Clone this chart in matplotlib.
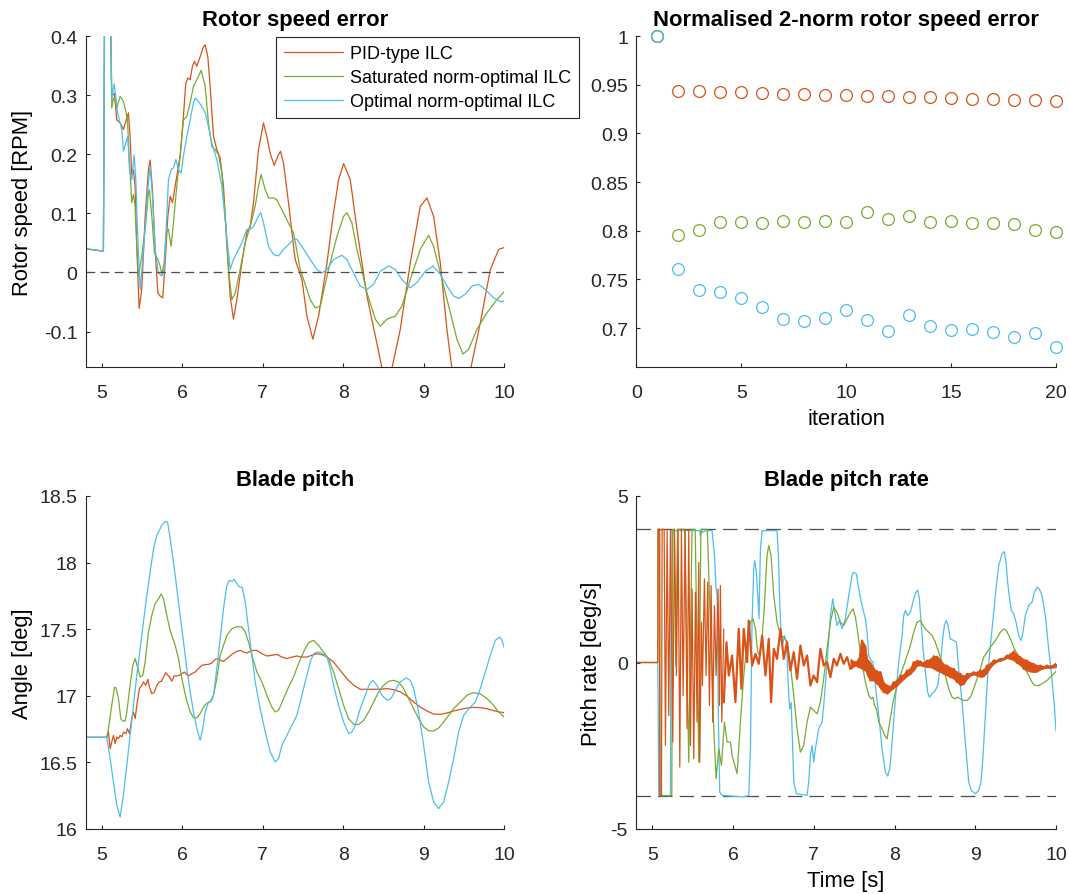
import numpy as np
import matplotlib
matplotlib.use("Agg")
import matplotlib.pyplot as plt

plt.rcParams['font.family'] = ['Liberation Sans', 'DejaVu Sans']
plt.rcParams['axes.unicode_minus'] = False
plt.rcParams['text.color'] = '#262626'

C_PID = '#D95319'
C_SAT = '#77AC30'
C_OPT = '#4DBEEE'
C_AX = '#262626'
C_REF = '#4d4d4d'

labels = ['PID-type ILC', 'Saturated norm-optimal ILC', 'Optimal norm-optimal ILC']

# ---------------- rotor speed error [RPM] (time, value) ----------------
speed_pid = np.array([
    (4.80, 0.040), (5.02, 0.036), (5.04, 0.60), (5.09, 0.60), (5.124, 0.298), (5.157, 0.303),
    (5.186, 0.258), (5.228, 0.253), (5.269, 0.242), (5.311, 0.261), (5.331, 0.270), (5.352, 0.230),
    (5.373, 0.163), (5.393, 0.174), (5.414, 0.146), (5.435, 0.044), (5.464, -0.061), (5.497, -0.029),
    (5.539, 0.095), (5.580, 0.174), (5.601, 0.190), (5.630, 0.140), (5.663, 0.039), (5.696, -0.034),
    (5.725, -0.040), (5.758, -0.043), (5.787, 0.016), (5.821, 0.095), (5.850, 0.129), (5.879, 0.118),
    (5.912, 0.146), (5.974, 0.197), (6.015, 0.264), (6.044, 0.320), (6.069, 0.329), (6.098, 0.326),
    (6.127, 0.349), (6.152, 0.357), (6.181, 0.349), (6.223, 0.365), (6.264, 0.382), (6.285, 0.385),
    (6.318, 0.365), (6.347, 0.315), (6.389, 0.230), (6.430, 0.208), (6.471, 0.194), (6.513, 0.146),
    (6.554, 0.050), (6.596, -0.040), (6.637, -0.079), (6.679, -0.046), (6.741, 0.016), (6.803, 0.067),
    (6.845, 0.078), (6.886, 0.118), (6.948, 0.208), (7.010, 0.253), (7.052, 0.230), (7.093, 0.202),
    (7.143, 0.181), (7.189, 0.197), (7.222, 0.205), (7.259, 0.185), (7.321, 0.118), (7.384, 0.044),
    (7.404, 0.022), (7.488, -0.012), (7.550, -0.074), (7.624, -0.113), (7.695, -0.074), (7.799, 0.016),
    (7.881, 0.101), (7.944, 0.157), (8.006, 0.184), (8.089, 0.157), (8.172, 0.073), (8.296, -0.040),
    (8.420, -0.120), (8.480, -0.160), (8.550, -0.178), (8.610, -0.160), (8.711, -0.096), (8.835, 0.016),
    (8.959, 0.112), (9.042, 0.126), (9.125, 0.095), (9.208, 0.016), (9.290, -0.096), (9.350, -0.160),
    (9.470, -0.205), (9.590, -0.160), (9.706, -0.085), (9.830, 0.005), (9.934, 0.039), (10.0, 0.042)])

speed_sat = np.array([
    (4.80, 0.040), (5.02, 0.036), (5.04, 0.60), (5.09, 0.60), (5.124, 0.278), (5.145, 0.295),
    (5.166, 0.292), (5.186, 0.278), (5.228, 0.298), (5.269, 0.289), (5.298, 0.273), (5.319, 0.258),
    (5.340, 0.197), (5.373, 0.118), (5.393, 0.132), (5.414, 0.112), (5.435, 0.044), (5.456, -0.006),
    (5.497, 0.028), (5.539, 0.073), (5.580, 0.135), (5.592, 0.140), (5.622, 0.095), (5.655, 0.033),
    (5.696, 0.022), (5.725, 0.011), (5.746, -0.003), (5.775, 0.016), (5.800, 0.067), (5.829, 0.073),
    (5.862, 0.044), (5.891, 0.084), (5.932, 0.146), (5.974, 0.197), (6.015, 0.258), (6.057, 0.264),
    (6.098, 0.287), (6.140, 0.315), (6.181, 0.326), (6.235, 0.342), (6.285, 0.315), (6.326, 0.253),
    (6.368, 0.213), (6.409, 0.208), (6.451, 0.199), (6.492, 0.169), (6.534, 0.096), (6.575, 0.005),
    (6.617, -0.046), (6.658, -0.035), (6.720, 0.005), (6.783, 0.050), (6.845, 0.078), (6.907, 0.112),
    (6.948, 0.146), (6.981, 0.166), (7.031, 0.140), (7.073, 0.126), (7.135, 0.126), (7.176, 0.123),
    (7.239, 0.106), (7.301, 0.089), (7.384, 0.067), (7.467, 0.005), (7.591, -0.046), (7.653, -0.060),
    (7.716, -0.057), (7.819, 0.005), (7.923, 0.061), (8.006, 0.095), (8.047, 0.101), (8.109, 0.084),
    (8.172, 0.039), (8.296, -0.034), (8.400, -0.079), (8.462, -0.091), (8.545, -0.079), (8.648, -0.074),
    (8.731, -0.057), (8.835, -0.012), (8.959, 0.039), (9.063, 0.063), (9.125, 0.044), (9.229, -0.012),
    (9.333, -0.068), (9.415, -0.113), (9.490, -0.138), (9.561, -0.130), (9.664, -0.096), (9.789, -0.068),
    (9.913, -0.046), (10.0, -0.033)])

speed_opt = np.array([
    (4.80, 0.040), (5.02, 0.036), (5.04, 0.60), (5.10, 0.60), (5.124, 0.292), (5.153, 0.319),
    (5.174, 0.298), (5.195, 0.270), (5.228, 0.253), (5.248, 0.242), (5.269, 0.205), (5.298, 0.219),
    (5.323, 0.230), (5.344, 0.174), (5.373, 0.157), (5.402, 0.199), (5.423, 0.157), (5.443, 0.073),
    (5.477, -0.029), (5.506, 0.016), (5.539, 0.078), (5.572, 0.140), (5.601, 0.180), (5.630, 0.129),
    (5.663, 0.039), (5.704, -0.001), (5.746, -0.006), (5.775, 0.005), (5.800, 0.073), (5.829, 0.157),
    (5.862, 0.174), (5.891, 0.177), (5.920, 0.191), (5.953, 0.174), (5.986, 0.168), (6.015, 0.197),
    (6.057, 0.230), (6.098, 0.258), (6.140, 0.287), (6.161, 0.295), (6.202, 0.289), (6.243, 0.281),
    (6.285, 0.270), (6.326, 0.247), (6.368, 0.219), (6.430, 0.191), (6.492, 0.146), (6.554, 0.061),
    (6.596, 0.005), (6.637, 0.022), (6.679, 0.033), (6.741, 0.050), (6.803, 0.073), (6.845, 0.073),
    (6.886, 0.078), (6.948, 0.095), (6.977, 0.101), (7.010, 0.084), (7.073, 0.044), (7.135, 0.030),
    (7.197, 0.028), (7.259, 0.039), (7.321, 0.047), (7.384, 0.056), (7.425, 0.056), (7.488, 0.044),
    (7.591, 0.022), (7.674, 0.005), (7.736, -0.001), (7.799, 0.005), (7.881, 0.022), (7.985, 0.029),
    (8.047, 0.022), (8.130, -0.001), (8.213, -0.023), (8.296, -0.029), (8.379, -0.020), (8.462, 0.002),
    (8.566, 0.011), (8.648, 0.005), (8.731, -0.012), (8.835, -0.026), (8.918, -0.017), (9.022, 0.002),
    (9.117, 0.011), (9.208, -0.003), (9.291, -0.023), (9.374, -0.040), (9.436, -0.044), (9.519, -0.037),
    (9.602, -0.023), (9.685, -0.020), (9.768, -0.029), (9.872, -0.043), (9.963, -0.050), (10.0, -0.048)])

# ---------------- normalised 2-norm of the error per iteration ----------------
iteration = np.arange(1, 21)
norm_pid = [1.0, 0.9437, 0.9430, 0.9423, 0.9420, 0.9413, 0.9406, 0.9400, 0.9392, 0.9389,
            0.9382, 0.9379, 0.9372, 0.9369, 0.9362, 0.9355, 0.9348, 0.9345, 0.9341, 0.9334]
norm_sat = [1.0, 0.7959, 0.8003, 0.8085, 0.8085, 0.8080, 0.8096, 0.8089, 0.8096, 0.8085,
            0.8195, 0.8116, 0.8150, 0.8090, 0.8096, 0.8078, 0.8080, 0.8068, 0.8010, 0.7990]
norm_opt = [1.0, 0.7611, 0.7396, 0.7369, 0.7310, 0.7218, 0.7096, 0.7072, 0.7106, 0.7184,
            0.7078, 0.6973, 0.7130, 0.7017, 0.6983, 0.6993, 0.6959, 0.6904, 0.6952, 0.6802]

# ---------------- blade pitch angle [deg] (time, value) ----------------
pitch_pid = np.array([
    (4.80, 16.688), (5.062, 16.688), (5.083, 16.728), (5.104, 16.603), (5.124, 16.653), (5.145, 16.703),
    (5.166, 16.641), (5.187, 16.691), (5.207, 16.678), (5.228, 16.703), (5.249, 16.691), (5.269, 16.728),
    (5.299, 16.716), (5.319, 16.753), (5.344, 16.716), (5.373, 16.828), (5.394, 16.878), (5.415, 16.828),
    (5.435, 16.928), (5.468, 17.054), (5.498, 17.079), (5.518, 17.104), (5.547, 17.079), (5.572, 17.124),
    (5.593, 17.066), (5.622, 17.016), (5.651, 17.024), (5.684, 17.079), (5.713, 17.104), (5.742, 17.109),
    (5.767, 17.141), (5.796, 17.174), (5.821, 17.154), (5.842, 17.141), (5.871, 17.109), (5.900, 17.149),
    (5.933, 17.149), (5.962, 17.154), (5.995, 17.166), (6.028, 17.179), (6.057, 17.159), (6.078, 17.149),
    (6.119, 17.166), (6.161, 17.179), (6.202, 17.204), (6.244, 17.229), (6.285, 17.234), (6.327, 17.236),
    (6.368, 17.246), (6.410, 17.274), (6.451, 17.279), (6.472, 17.266), (6.513, 17.259), (6.555, 17.279),
    (6.617, 17.311), (6.679, 17.334), (6.721, 17.341), (6.762, 17.329), (6.803, 17.321), (6.845, 17.334),
    (6.886, 17.341), (6.928, 17.341), (6.990, 17.316), (7.052, 17.299), (7.114, 17.304), (7.177, 17.311),
    (7.239, 17.291), (7.301, 17.279), (7.363, 17.291), (7.425, 17.299), (7.488, 17.291), (7.550, 17.291),
    (7.612, 17.304), (7.674, 17.316), (7.736, 17.309), (7.799, 17.291), (7.881, 17.254), (7.964, 17.191),
    (8.047, 17.129), (8.130, 17.079), (8.213, 17.049), (8.296, 17.049), (8.379, 17.049), (8.462, 17.049),
    (8.545, 17.054), (8.628, 17.046), (8.711, 17.029), (8.794, 16.998), (8.877, 16.953), (8.959, 16.916),
    (9.042, 16.886), (9.125, 16.863), (9.208, 16.861), (9.291, 16.871), (9.374, 16.886), (9.457, 16.898),
    (9.540, 16.908), (9.623, 16.913), (9.706, 16.911), (9.789, 16.903), (9.872, 16.888), (9.954, 16.878),
    (10.0, 16.873)])

pitch_sat = np.array([
    (4.80, 16.688), (5.062, 16.688), (5.083, 16.753), (5.124, 16.928), (5.158, 17.064), (5.178, 17.059),
    (5.207, 16.979), (5.236, 16.828), (5.261, 16.811), (5.290, 16.811), (5.311, 16.878), (5.352, 17.079),
    (5.386, 17.229), (5.415, 17.279), (5.444, 17.216), (5.477, 17.141), (5.510, 17.154), (5.539, 17.254),
    (5.580, 17.479), (5.622, 17.604), (5.663, 17.692), (5.705, 17.729), (5.738, 17.764), (5.767, 17.729),
    (5.808, 17.604), (5.850, 17.491), (5.912, 17.379), (5.954, 17.279), (5.995, 17.129), (6.049, 16.979),
    (6.099, 16.878), (6.140, 16.836), (6.182, 16.836), (6.223, 16.866), (6.265, 16.916), (6.306, 16.946),
    (6.347, 16.953), (6.389, 17.004), (6.430, 17.129), (6.472, 17.304), (6.513, 17.379), (6.555, 17.454),
    (6.617, 17.504), (6.679, 17.519), (6.741, 17.516), (6.783, 17.479), (6.824, 17.404), (6.866, 17.304),
    (6.928, 17.179), (6.990, 17.104), (7.052, 17.004), (7.114, 16.916), (7.156, 16.878), (7.197, 16.891),
    (7.260, 16.979), (7.322, 17.066), (7.384, 17.141), (7.446, 17.241), (7.508, 17.329), (7.570, 17.399),
    (7.633, 17.416), (7.695, 17.379), (7.757, 17.329), (7.819, 17.279), (7.881, 17.179), (7.944, 17.054),
    (8.006, 16.928), (8.068, 16.828), (8.130, 16.788), (8.192, 16.783), (8.255, 16.816), (8.317, 16.878),
    (8.379, 16.953), (8.441, 17.029), (8.503, 17.079), (8.566, 17.109), (8.628, 17.116), (8.690, 17.104),
    (8.752, 17.054), (8.814, 16.979), (8.877, 16.903), (8.939, 16.828), (9.001, 16.766), (9.063, 16.738),
    (9.125, 16.736), (9.187, 16.758), (9.250, 16.803), (9.312, 16.853), (9.374, 16.903), (9.457, 16.953),
    (9.540, 17.004), (9.623, 17.024), (9.706, 17.014), (9.789, 16.979), (9.872, 16.928), (9.934, 16.878),
    (10.0, 16.841)])

pitch_opt = np.array([
    (4.80, 16.688), (5.062, 16.688), (5.104, 16.528), (5.145, 16.353), (5.187, 16.178), (5.228, 16.090),
    (5.269, 16.253), (5.311, 16.478), (5.352, 16.703), (5.394, 16.928), (5.435, 17.154), (5.477, 17.354),
    (5.518, 17.554), (5.560, 17.754), (5.601, 17.929), (5.643, 18.104), (5.684, 18.205), (5.746, 18.280),
    (5.788, 18.310), (5.817, 18.305), (5.850, 18.180), (5.891, 18.005), (5.933, 17.804), (5.974, 17.604),
    (6.016, 17.404), (6.057, 17.204), (6.099, 17.029), (6.140, 16.878), (6.182, 16.753), (6.223, 16.666),
    (6.256, 16.753), (6.285, 16.878), (6.327, 16.953), (6.368, 16.966), (6.389, 17.004), (6.430, 17.204),
    (6.472, 17.429), (6.513, 17.654), (6.555, 17.829), (6.584, 17.867), (6.617, 17.859), (6.646, 17.874),
    (6.679, 17.842), (6.712, 17.817), (6.745, 17.814), (6.783, 17.704), (6.824, 17.504), (6.866, 17.304),
    (6.907, 17.104), (6.969, 16.903), (7.032, 16.728), (7.094, 16.578), (7.156, 16.503), (7.197, 16.528),
    (7.239, 16.628), (7.301, 16.703), (7.363, 16.778), (7.425, 16.853), (7.467, 16.953), (7.508, 17.054),
    (7.550, 17.154), (7.591, 17.254), (7.633, 17.316), (7.682, 17.329), (7.736, 17.321), (7.799, 17.291),
    (7.840, 17.204), (7.881, 17.079), (7.944, 16.928), (8.006, 16.803), (8.068, 16.716), (8.109, 16.728),
    (8.151, 16.778), (8.213, 16.903), (8.275, 17.004), (8.329, 17.091), (8.371, 17.116), (8.420, 17.079),
    (8.483, 17.004), (8.545, 16.966), (8.595, 16.979), (8.648, 17.041), (8.711, 17.104), (8.785, 17.134),
    (8.835, 17.116), (8.877, 17.054), (8.939, 16.878), (9.001, 16.628), (9.063, 16.353), (9.125, 16.203),
    (9.187, 16.153), (9.250, 16.203), (9.312, 16.353), (9.374, 16.528), (9.436, 16.728), (9.498, 16.853),
    (9.581, 16.916), (9.643, 16.953), (9.706, 17.054), (9.768, 17.179), (9.830, 17.304), (9.892, 17.416),
    (9.946, 17.441), (9.975, 17.416), (10.0, 17.366)])

# ---------------- blade pitch rate [deg/s] ----------------
rate_limit = 4.0

# PID-type: switching phase as a line (time, value) ...
rate_pid_switch = np.array([
    (4.80, 0.0), (5.066, 0.0), (5.070, 4.0), (5.087, 4.0), (5.091, -3.99), (5.112, -3.99), (5.120, 4.0),
    (5.145, 4.0), (5.161, -2.49), (5.182, 4.0), (5.202, -1.59), (5.223, 4.0), (5.252, -2.39), (5.273, 4.0),
    (5.297, -0.39), (5.318, 4.0), (5.339, -3.14), (5.359, 4.0), (5.380, -0.99), (5.405, 4.0), (5.429, -1.99),
    (5.450, 4.0), (5.471, -2.49), (5.491, 2.21), (5.512, -2.89), (5.533, 2.11), (5.553, -1.79), (5.574, 3.0),
    (5.586, -2.99), (5.607, 1.21), (5.619, -0.69), (5.644, 2.51), (5.665, -0.39), (5.685, 2.41),
    (5.706, -1.29), (5.727, 2.31), (5.747, -1.79), (5.768, 1.71), (5.789, -0.39), (5.813, 2.21),
    (5.830, -1.29), (5.842, 2.31), (5.859, -1.79), (5.884, 1.0)])

# ... then chattering, given as (time, lower swing, upper swing)
rate_pid_band = np.array([
    (5.884, -1.19, 1.91), (5.917, -0.49, 0.61), (5.946, -0.39, 0.41), (5.987, -0.79, 0.21),
    (6.028, -1.19, 0.61), (6.069, -0.99, 1.01), (6.102, -0.79, 1.71), (6.131, -0.39, 1.01),
    (6.173, 0.01, 0.71), (6.193, 0.01, 1.26), (6.235, -0.09, 0.41), (6.276, -0.19, 0.26),
    (6.317, -0.04, 0.51), (6.359, -0.19, 0.81), (6.400, -0.39, 1.06), (6.441, -0.79, 0.71),
    (6.470, -1.19, 0.21), (6.503, -0.39, 0.41), (6.544, 0.11, 0.81), (6.586, 0.21, 1.01),
    (6.627, 0.11, 0.81), (6.668, -0.09, 0.61), (6.709, -0.24, 0.51), (6.751, -0.39, 0.31),
    (6.792, -0.49, 0.21), (6.833, -0.19, 0.51), (6.875, -0.09, 0.41), (6.916, -0.49, 0.21),
    (6.957, -0.69, -0.09), (6.998, -0.89, -0.39), (7.040, -0.59, 0.11), (7.081, -0.09, 0.41),
    (7.122, -0.09, 0.31), (7.164, -0.39, 0.01), (7.205, -0.44, -0.04), (7.246, -0.24, 0.11),
    (7.287, -0.09, 0.21), (7.329, 0.01, 0.26), (7.370, -0.04, 0.21), (7.412, -0.14, 0.16),
    (7.453, -0.19, 0.11), (7.515, -0.09, 0.01), (7.556, -0.14, 0.16), (7.597, -0.19, 0.66),
    (7.638, -0.24, 0.51), (7.659, -0.39, 0.11), (7.700, -0.54, 0.01), (7.742, -0.54, -0.19),
    (7.783, -0.64, -0.24), (7.824, -0.79, -0.29), (7.865, -0.89, -0.59), (7.907, -0.94, -0.69),
    (7.948, -0.84, -0.69), (7.989, -0.77, -0.59), (8.031, -0.69, -0.49), (8.072, -0.59, -0.39),
    (8.113, -0.49, -0.34), (8.155, -0.41, -0.24), (8.196, -0.34, -0.14), (8.237, -0.24, 0.01),
    (8.278, -0.09, 0.09), (8.320, -0.09, 0.03), (8.361, -0.11, 0.01), (8.402, -0.14, 0.06),
    (8.443, -0.14, 0.13), (8.485, -0.19, 0.19), (8.526, -0.24, 0.21), (8.567, -0.29, 0.06),
    (8.609, -0.34, -0.04), (8.650, -0.39, -0.09), (8.691, -0.44, -0.14), (8.733, -0.49, -0.19),
    (8.774, -0.59, -0.27), (8.815, -0.69, -0.34), (8.856, -0.64, -0.39), (8.898, -0.49, -0.34),
    (8.939, -0.39, -0.31), (8.980, -0.36, -0.29), (9.021, -0.39, -0.27), (9.063, -0.44, -0.24),
    (9.104, -0.41, -0.19), (9.145, -0.31, -0.09), (9.187, -0.14, 0.01), (9.228, -0.04, 0.06),
    (9.269, 0.03, 0.09), (9.311, 0.05, 0.11), (9.352, 0.09, 0.15), (9.393, 0.13, 0.21),
    (9.434, 0.11, 0.29), (9.476, 0.06, 0.33), (9.517, -0.01, 0.26), (9.558, -0.09, 0.16),
    (9.600, -0.19, 0.11), (9.641, -0.24, 0.06), (9.682, -0.27, 0.01), (9.723, -0.29, -0.04),
    (9.765, -0.27, -0.07), (9.806, -0.21, -0.09), (9.847, -0.17, -0.11), (9.888, -0.16, -0.09),
    (9.930, -0.16, -0.09), (10.0, -0.14, -0.04)])
dense_from = 7.45  # from here on the chattering reads as a solid ribbon

rate_sat = np.array([
    (4.80, 0.0), (5.066, 0.0), (5.068, 4.0), (5.090, 4.0), (5.095, -4.0), (5.240, -4.0), (5.250, 4.0),
    (5.270, 4.0), (5.290, -0.10), (5.310, 4.0), (5.400, 4.0), (5.450, -3.0), (5.490, 4.0), (5.530, 4.0),
    (5.574, -3.0), (5.600, 4.0), (5.680, 4.0), (5.720, 1.0), (5.760, -2.0), (5.789, -3.49),
    (5.822, -2.59), (5.855, -3.09), (5.892, -1.79), (5.925, -2.39), (5.966, -2.39), (5.987, -2.79),
    (6.049, -3.34), (6.090, -1.79), (6.131, -0.39), (6.173, 0.61), (6.214, 1.21), (6.247, 1.31),
    (6.276, 1.01), (6.305, 0.31), (6.330, 0.21), (6.358, 0.71), (6.387, 1.71), (6.420, 3.21),
    (6.441, 3.51), (6.470, 3.21), (6.503, 2.01), (6.544, 1.21), (6.586, 0.81), (6.627, 0.76),
    (6.668, 0.61), (6.709, -0.09), (6.751, -0.99), (6.792, -1.99), (6.833, -2.69), (6.875, -2.49),
    (6.916, -1.79), (6.957, -1.34), (6.998, -1.44), (7.040, -1.54), (7.081, -1.19), (7.122, -0.49),
    (7.164, 0.41), (7.205, 1.21), (7.246, 1.66), (7.287, 1.51), (7.329, 1.21), (7.370, 1.11),
    (7.412, 1.31), (7.453, 1.51), (7.486, 1.61), (7.515, 1.36), (7.543, 0.91), (7.576, 0.31),
    (7.609, -0.19), (7.638, -0.59), (7.680, -0.99), (7.709, -1.09), (7.733, -1.04), (7.750, -1.29),
    (7.775, -1.39), (7.804, -1.79), (7.845, -1.99), (7.878, -2.19), (7.907, -2.29), (7.940, -1.79),
    (7.981, -1.19), (8.031, -0.69), (8.072, -0.39), (8.113, -0.09), (8.155, 0.21), (8.196, 0.51),
    (8.237, 0.91), (8.278, 1.21), (8.320, 1.26), (8.353, 1.11), (8.382, 1.01), (8.423, 0.91),
    (8.464, 0.81), (8.505, 0.61), (8.547, 0.31), (8.588, 0.01), (8.629, -0.39), (8.671, -0.79),
    (8.712, -1.04), (8.753, -1.09), (8.782, -1.04), (8.815, -1.09), (8.856, -1.14), (8.898, -1.14),
    (8.939, -1.04), (8.980, -0.79), (9.021, -0.49), (9.063, -0.19), (9.104, 0.16), (9.145, 0.31),
    (9.187, 0.46), (9.249, 0.66), (9.311, 0.91), (9.352, 1.01), (9.385, 0.96), (9.426, 0.76),
    (9.476, 0.46), (9.517, 0.26), (9.558, 0.06), (9.600, -0.09), (9.641, -0.29), (9.682, -0.49),
    (9.715, -0.64), (9.744, -0.69), (9.785, -0.69), (9.827, -0.64), (9.888, -0.54), (9.950, -0.39),
    (10.0, -0.27)])

rate_opt = np.array([
    (4.80, 0.0), (5.066, 0.0), (5.070, -1.0), (5.078, -3.99), (5.223, -4.0), (5.231, 3.96), (5.388, 3.96),
    (5.585, 3.96), (5.595, 3.81), (5.615, 3.96), (5.628, 3.91), (5.656, 3.96), (5.739, 3.96), (5.768, 3.21),
    (5.789, 2.21), (5.801, 2.01), (5.818, -1.79), (5.834, -3.89), (5.863, -3.99), (6.131, -4.04),
    (6.193, -3.99), (6.214, -2.59), (6.234, 1.21), (6.255, 2.81), (6.268, 3.06), (6.288, 2.71),
    (6.305, 2.01), (6.321, 1.31), (6.325, 2.0), (6.338, 3.4), (6.359, 3.96), (6.544, 3.96), (6.561, 3.2),
    (6.577, 1.81), (6.594, 0.80), (6.610, 0.51), (6.635, 0.81), (6.660, 0.61), (6.689, -0.99),
    (6.701, -1.39), (6.718, -1.20), (6.734, -2.29), (6.751, -3.59), (6.784, -3.94), (6.916, -3.99),
    (6.936, -3.59), (6.957, -2.79), (6.978, -2.49), (6.998, -2.99), (7.019, -2.59), (7.060, -1.99),
    (7.102, -1.79), (7.122, -1.29), (7.164, 0.01), (7.205, 1.41), (7.234, 1.91), (7.259, 1.51),
    (7.287, 1.11), (7.316, 1.26), (7.349, 1.01), (7.391, 1.31), (7.432, 2.01), (7.473, 2.61),
    (7.486, 2.71), (7.527, 2.66), (7.556, 2.21), (7.597, 1.71), (7.638, 1.31), (7.659, 0.91),
    (7.680, 0.21), (7.708, 0.06), (7.733, 0.01), (7.762, -0.69), (7.804, -1.59), (7.845, -2.59),
    (7.886, -3.29), (7.915, -3.41), (7.940, -3.19), (7.969, -2.39), (8.010, -1.09), (8.051, 0.01),
    (8.093, 0.81), (8.113, 1.41), (8.134, 1.56), (8.163, 1.41), (8.196, 1.51), (8.237, 1.91),
    (8.266, 2.11), (8.287, 2.18), (8.307, 1.91), (8.328, 1.21), (8.353, 0.41), (8.382, -0.29),
    (8.410, -0.89), (8.431, -1.04), (8.464, -0.94), (8.505, -0.84), (8.534, -0.69), (8.567, -0.09),
    (8.596, 0.71), (8.617, 1.11), (8.638, 1.26), (8.658, 1.16), (8.691, 0.71), (8.733, 0.66),
    (8.766, 0.61), (8.794, -0.19), (8.836, -1.19), (8.877, -2.39), (8.918, -3.59), (8.951, -3.84),
    (9.001, -3.94), (9.042, -3.84), (9.071, -3.59), (9.096, -2.79), (9.125, -1.59), (9.154, -0.39),
    (9.187, 0.51), (9.220, 1.31), (9.257, 2.21), (9.290, 2.91), (9.331, 3.26), (9.360, 3.33),
    (9.381, 3.01), (9.401, 2.41), (9.426, 1.91), (9.447, 1.56), (9.476, 1.46), (9.505, 1.21),
    (9.538, 0.81), (9.567, 0.66), (9.591, 0.91), (9.620, 1.41), (9.661, 1.71), (9.703, 1.81),
    (9.732, 2.11), (9.765, 2.26), (9.794, 2.21), (9.827, 2.01), (9.868, 1.41), (9.909, 0.41),
    (9.950, -0.49), (9.979, -1.29), (10.0, -2.05)])

# ---------------- figure ----------------
W, H = 1070, 895
fig = plt.figure(figsize=(W / 100, H / 100), dpi=100)


def box(x0, y0, x1, y1):
    return [x0 / W, 1 - y1 / H, (x1 - x0) / W, (y1 - y0) / H]


ax_speed = fig.add_axes(box(85.7, 37, 504, 368))
ax_norm = fig.add_axes(box(636.3, 37, 1056, 368))
ax_pitch = fig.add_axes(box(85.7, 497, 504, 830))
ax_rate = fig.add_axes(box(636.3, 497, 1056, 830))

TICK_FS = 14
LABEL_FS = 15.8
LW = 0.9


def style(ax):
    for s in ('top', 'right'):
        ax.spines[s].set_visible(False)
    for s in ('left', 'bottom'):
        ax.spines[s].set_color(C_AX)
        ax.spines[s].set_linewidth(0.8)
    ax.tick_params(direction='in', length=3, width=0.8, colors=C_AX,
                   labelsize=TICK_FS, labelcolor=C_AX)
    ax.tick_params(axis='x', pad=12)
    ax.tick_params(axis='y', pad=6)


def title(ax, text):
    ax.set_title(text, fontsize=LABEL_FS, fontweight='bold', color='black', pad=8)


# Rotor speed error
ax = ax_speed
style(ax)
ax.plot(speed_pid[:, 0], speed_pid[:, 1], color=C_PID, lw=LW, label=labels[0])
ax.plot(speed_sat[:, 0], speed_sat[:, 1], color=C_SAT, lw=LW, label=labels[1])
ax.plot(speed_opt[:, 0], speed_opt[:, 1], color=C_OPT, lw=LW, label=labels[2])
ref = ax.axhline(0, color=C_REF, lw=0.9)
ref.set_dashes((7, 4.3))
ax.set_xlim(4.8, 10)
ax.set_ylim(-0.16, 0.4)
ax.set_xticks([5, 6, 7, 8, 9, 10])
ax.set_yticks([-0.1, 0, 0.1, 0.2, 0.3, 0.4])
ax.set_yticklabels(['-0.1', '0', '0.1', '0.2', '0.3', '0.4'])
title(ax, 'Rotor speed error')
ax.set_ylabel('Rotor speed [RPM]', fontsize=LABEL_FS, va='center')
ax.yaxis.set_label_coords(-0.150, 0.5)
leg = ax.legend(loc='upper left', bbox_to_anchor=(275.5 / W, 1 - 38 / H),
                bbox_transform=fig.transFigure, borderaxespad=0, fontsize=13,
                handlelength=3.3, handletextpad=0.35, labelspacing=0.38,
                borderpad=0.45, fancybox=False, framealpha=1)
leg.get_frame().set_edgecolor(C_AX)
leg.get_frame().set_linewidth(0.8)
for txt in leg.get_texts():
    txt.set_color('black')

# Normalised 2-norm error
ax = ax_norm
style(ax)
for vals, col in ((norm_pid, C_PID), (norm_sat, C_SAT), (norm_opt, C_OPT)):
    ax.plot(iteration, vals, linestyle='none', marker='o', ms=8.5, mfc='none',
            mec=col, mew=0.9, clip_on=False)
ax.set_xlim(0, 20)
ax.set_ylim(0.66, 1.0)
ax.set_xticks([0, 5, 10, 15, 20])
ax.set_yticks([0.7, 0.75, 0.8, 0.85, 0.9, 0.95, 1.0])
ax.set_yticklabels(['0.7', '0.75', '0.8', '0.85', '0.9', '0.95', '1'])
title(ax, 'Normalised 2-norm rotor speed error')
ax.set_xlabel('iteration', fontsize=LABEL_FS, va='center')
ax.xaxis.set_label_coords(0.5, -0.157)

# Blade pitch
ax = ax_pitch
style(ax)
ax.plot(pitch_pid[:, 0], pitch_pid[:, 1], color=C_PID, lw=LW)
ax.plot(pitch_sat[:, 0], pitch_sat[:, 1], color=C_SAT, lw=LW)
ax.plot(pitch_opt[:, 0], pitch_opt[:, 1], color=C_OPT, lw=LW)
ax.set_xlim(4.8, 10)
ax.set_ylim(16, 18.5)
ax.set_xticks([5, 6, 7, 8, 9, 10])
ax.set_yticks([16, 16.5, 17, 17.5, 18, 18.5])
ax.set_yticklabels(['16', '16.5', '17', '17.5', '18', '18.5'])
title(ax, 'Blade pitch')
ax.set_ylabel('Angle [deg]', fontsize=LABEL_FS, va='center')
ax.yaxis.set_label_coords(-0.150, 0.5)

# Blade pitch rate
ax = ax_rate
style(ax)
ax.plot(rate_opt[:, 0], rate_opt[:, 1], color=C_OPT, lw=LW, zorder=2)
ax.plot(rate_sat[:, 0], rate_sat[:, 1], color=C_SAT, lw=LW, zorder=2.1)
ax.plot(rate_pid_switch[:, 0], rate_pid_switch[:, 1], color=C_PID, lw=LW, zorder=2.2)
# chattering: alternate between the lower and upper swing at each sample
t_ch = rate_pid_band[:, 0]
swing = np.where(np.arange(len(t_ch)) % 2 == 0, rate_pid_band[:, 1], rate_pid_band[:, 2])
ax.plot(t_ch, swing, color=C_PID, lw=1.6, zorder=2.2)
dense = t_ch >= dense_from
ax.fill_between(t_ch[dense], rate_pid_band[dense, 1], rate_pid_band[dense, 2],
                facecolor=C_PID, edgecolor=C_PID, lw=0.6, zorder=2.2)
for lim in (rate_limit, -rate_limit):
    ref = ax.axhline(lim, color=C_REF, lw=0.9, zorder=1)
    ref.set_dashes((11.5, 5.8))
ax.set_xlim(4.8, 10)
ax.set_ylim(-5, 5)
ax.set_xticks([5, 6, 7, 8, 9, 10])
ax.set_yticks([-5, 0, 5])
ax.set_yticklabels(['-5', '0', '5'])
title(ax, 'Blade pitch rate')
ax.set_ylabel('Pitch rate [deg/s]', fontsize=LABEL_FS, va='center')
ax.yaxis.set_label_coords(-0.106, 0.5)
ax.set_xlabel('Time [s]', fontsize=LABEL_FS, va='center')
ax.xaxis.set_label_coords(0.5, -0.156)

fig.savefig('out.png', dpi=100, facecolor='white')
